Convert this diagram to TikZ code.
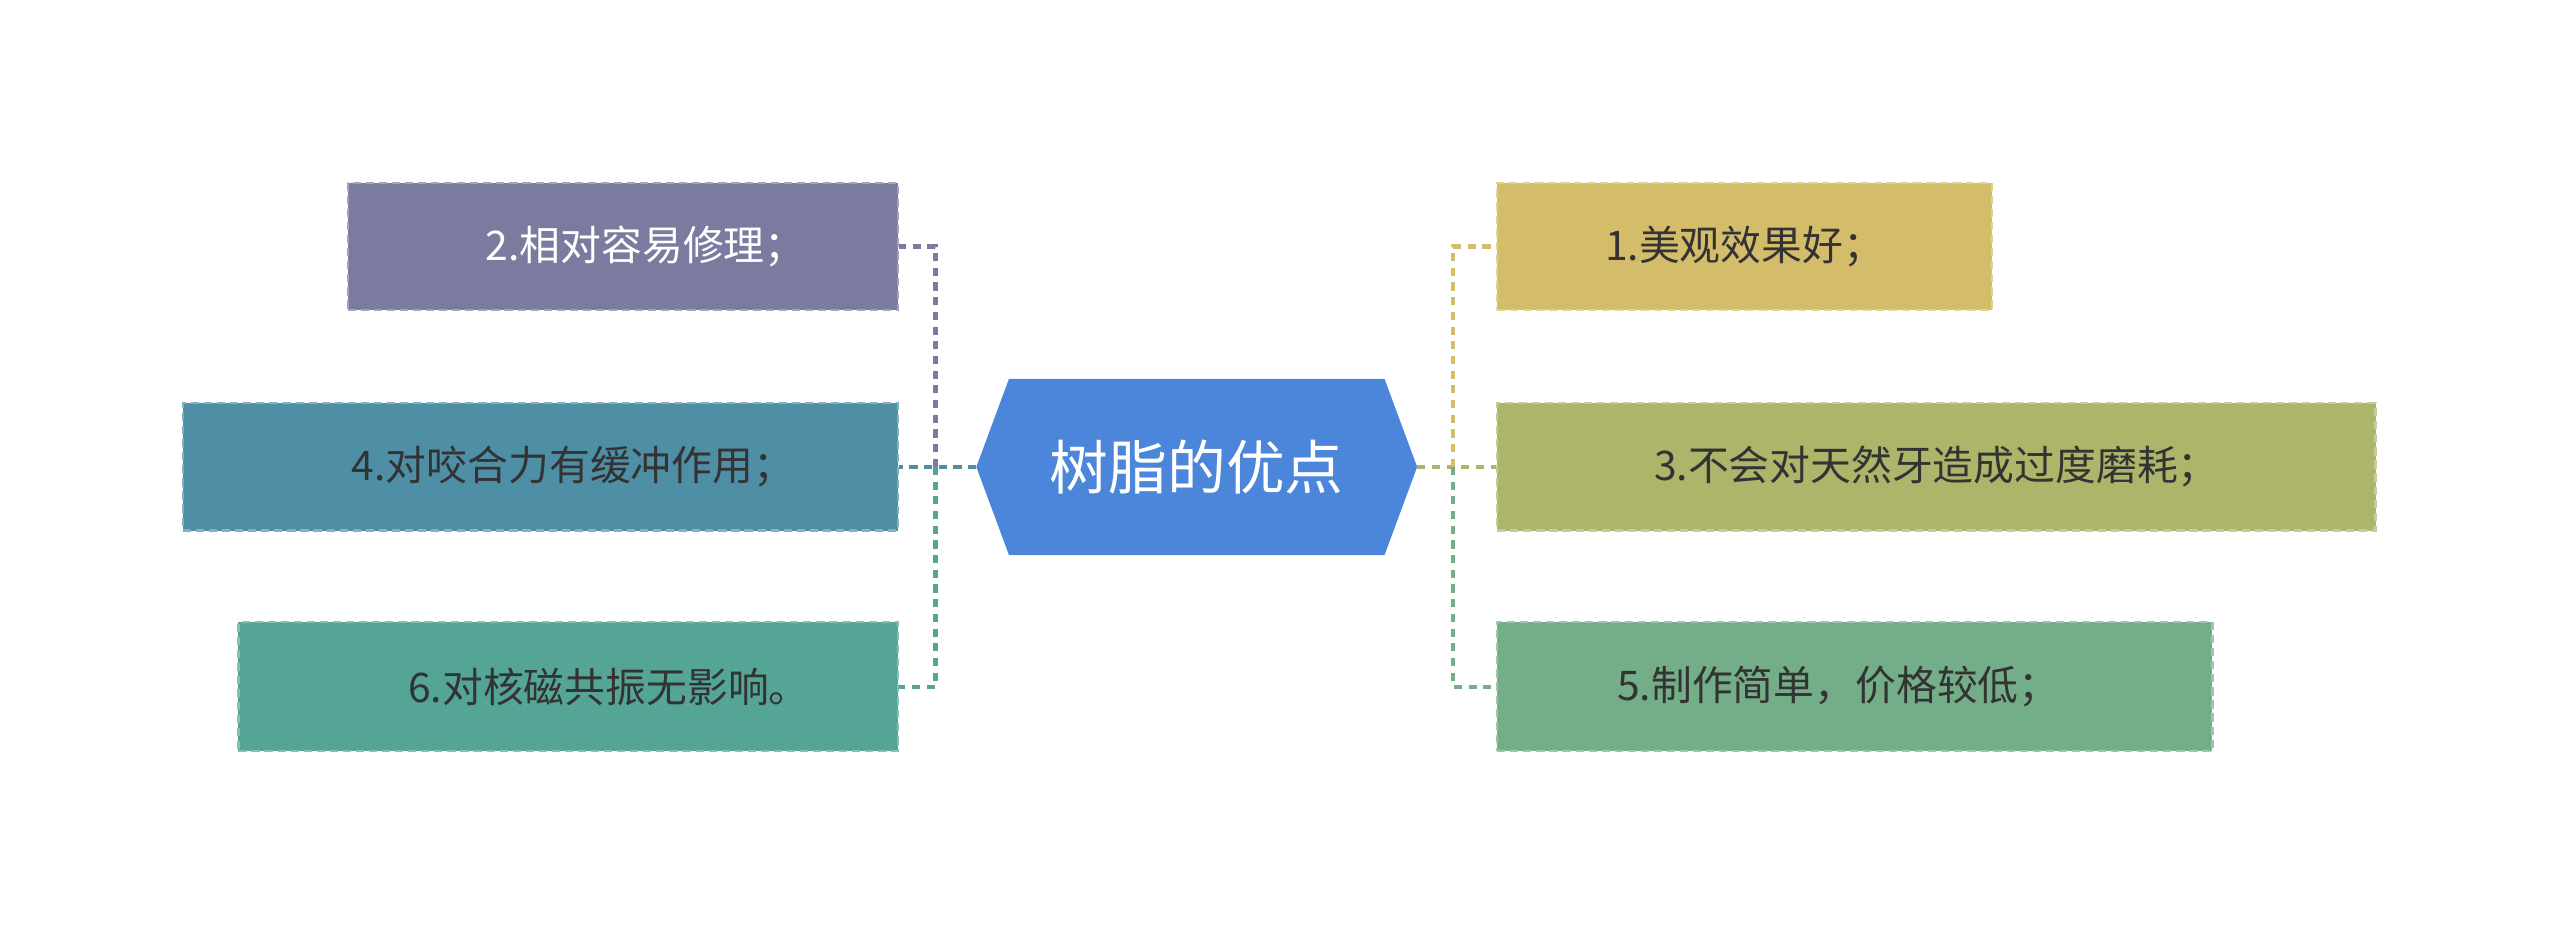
\documentclass[tikz,border=0pt]{standalone}
\usepackage{fontspec}
\setmainfont{Noto Sans CJK SC}
\begin{document}
\begin{tikzpicture}[x=1pt,y=-1pt,
  box/.style={rectangle,draw=#1!70!white,fill=#1,dashed,line width=1.5pt,dash pattern=on 5pt off 3pt,inner sep=0pt,font=\fontsize{25}{30}\selectfont,text=txt},
  con/.style={draw=#1,line width=2.5pt,dash pattern=on 5pt off 4pt}]
\definecolor{cblue}{HTML}{4C86DB}
\definecolor{cpur}{HTML}{7B7BA0}
\definecolor{cteal}{HTML}{4E8FA5}
\definecolor{cgreen}{HTML}{55A597}
\definecolor{cyel}{HTML}{D4BD6A}
\definecolor{colive}{HTML}{ADB56A}
\definecolor{cmint}{HTML}{74AE88}
\definecolor{txt}{HTML}{333333}
\useasboundingbox (0,0) rectangle (1568,573);
\fill[cblue] (598,286) -- (618,232) -- (848,232) -- (868,286) -- (848,340) -- (618,340) -- cycle;
\node[text=white,font=\fontsize{36}{40}\selectfont] (c) at (733,286) {树脂的优点};
\coordinate (cl) at (598,286); \coordinate (cr) at (868,286);
\node[box=cpur,minimum width=337pt,minimum height=78pt,text=white] (b2) at (381.5,151) {\hspace*{28pt}2.相对容易修理；};
\node[box=cteal,minimum width=438pt,minimum height=78pt] (b4) at (331,286) {\hspace*{40pt}4.对咬合力有缓冲作用；};
\node[box=cgreen,minimum width=404pt,minimum height=79pt] (b6) at (348,420.5) {\hspace*{50pt}6.对核磁共振无影响。};
\node[box=cyel,minimum width=303pt,minimum height=78pt] (b1) at (1068.5,151) {1.美观效果好；};
\node[box=colive,minimum width=538pt,minimum height=78pt] (b3) at (1186,286) {3.不会对天然牙造成过度磨耗；};
\node[box=cmint,minimum width=438pt,minimum height=79pt] (b5) at (1136,420.5) {\hspace*{-20pt}5.制作简单，价格较低；};
\coordinate (jl) at (573,286); \coordinate (jr) at (890,286);
\draw[con=cteal] (cl) -- (jl) -- (b4.east);
\draw[con=cpur] (jl) -- (jl|-b2) -- (b2.east);
\draw[con=cgreen] (jl) -- (jl|-b6) -- (b6.east);
\draw[con=colive] (cr) -- (jr) -- (b3.west);
\draw[con=cyel] (jr) -- (jr|-b1) -- (b1.west);
\draw[con=cmint] (jr) -- (jr|-b5) -- (b5.west);
\end{tikzpicture}
\end{document}
